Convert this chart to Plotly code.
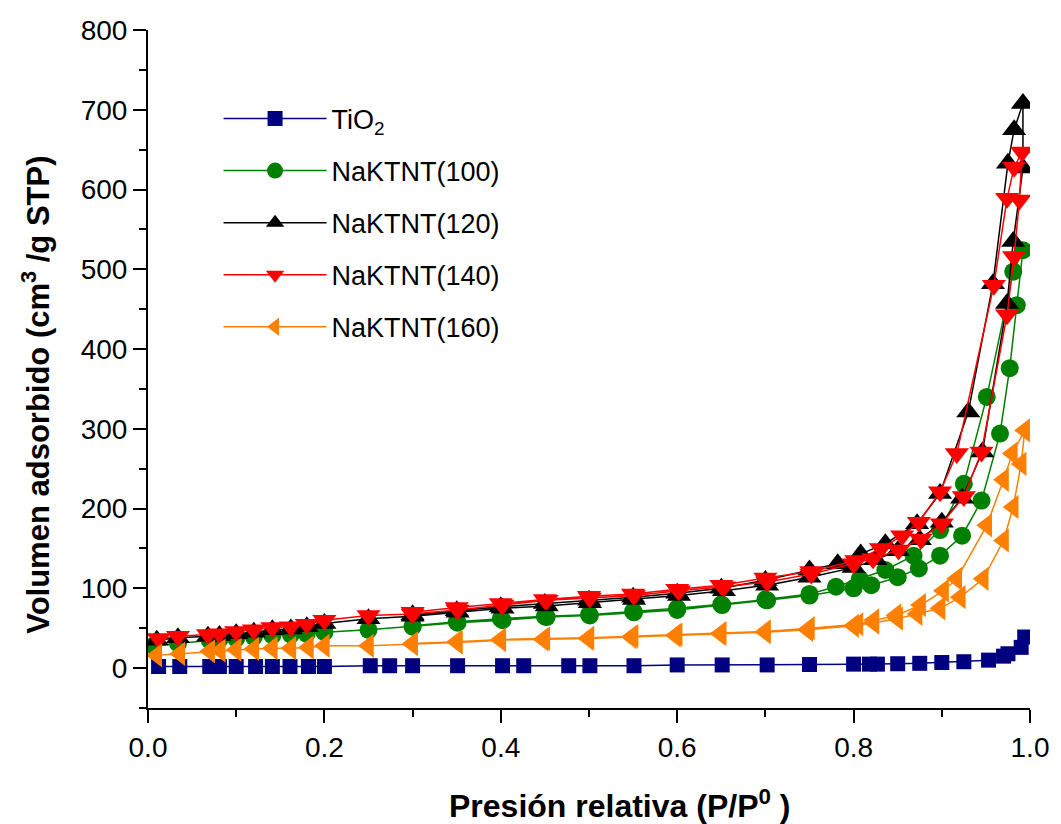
import plotly.graph_objects as go

# ---------------- data ----------------
tio2_x = [0.012, 0.036, 0.07, 0.081, 0.10, 0.122, 0.141, 0.161, 0.182, 0.20, 0.252, 0.274, 0.30, 0.351,
          0.402, 0.426, 0.477, 0.501, 0.551, 0.60, 0.651, 0.702, 0.75, 0.80, 0.818, 0.827, 0.85, 0.875,
          0.90, 0.925, 0.953, 0.97, 0.975, 0.99, 0.994]
tio2_y = [2, 2, 2, 2, 2, 2, 2, 2, 2, 2, 3, 3, 3, 3, 3, 3, 3, 3, 3, 4, 4, 4, 4.5, 5, 5, 5, 5.5, 6,
          7, 8, 10, 15, 18, 26, 39]

n100_x = [0.006, 0.034, 0.07, 0.081, 0.10, 0.12, 0.141, 0.162, 0.18, 0.20, 0.25, 0.30, 0.351, 0.402,
          0.452, 0.501, 0.551, 0.60, 0.651, 0.702, 0.75, 0.80, 0.82, 0.85, 0.874, 0.898, 0.923, 0.945,
          0.966, 0.977, 0.985, 0.992,
          0.981, 0.951, 0.925, 0.898, 0.868, 0.836, 0.807, 0.78, 0.75, 0.70, 0.65, 0.60, 0.55, 0.50,
          0.45, 0.40, 0.35, 0.30]
n100_y = [28, 31, 35, 36, 37, 39, 41, 42, 43, 45, 48, 52, 57, 60,
          64, 66, 70, 73, 79, 85, 91, 100, 104, 114, 125, 141, 166, 210,
          294, 376, 455, 524,
          497, 340, 231, 173, 141, 123, 112, 102, 93, 86, 80, 75, 71, 67,
          65, 62, 58, 53]

n120_x = [0.01, 0.034, 0.068, 0.081, 0.10, 0.12, 0.141, 0.162, 0.18, 0.20, 0.25, 0.30, 0.351, 0.402,
          0.452, 0.501, 0.551, 0.602, 0.653, 0.702, 0.75, 0.80, 0.825, 0.85, 0.875, 0.90, 0.923, 0.946,
          0.974, 0.981, 0.992, 0.992,
          0.982, 0.975, 0.958, 0.930, 0.898, 0.872, 0.836, 0.808, 0.782, 0.75, 0.70, 0.65, 0.60, 0.55,
          0.50, 0.45, 0.40, 0.35, 0.30]
n120_y = [35, 38, 40, 41, 43, 45, 48, 49, 52, 56, 62, 65, 70, 75,
          78, 82, 86, 91, 97, 104, 114, 126, 136, 147, 161, 183, 213, 271,
          457, 535, 627, 708,
          675, 633, 482, 321, 219, 181, 156, 143, 131, 123, 110, 100, 94, 89,
          85, 81, 77, 72, 67]

n140_x = [0.012, 0.034, 0.068, 0.081, 0.10, 0.12, 0.141, 0.162, 0.18, 0.20, 0.25, 0.30, 0.351, 0.402,
          0.452, 0.501, 0.551, 0.602, 0.653, 0.702, 0.752, 0.80, 0.822, 0.851, 0.876, 0.90, 0.925, 0.945,
          0.974, 0.982, 0.988, 0.991,
          0.982, 0.974, 0.959, 0.917, 0.898, 0.874, 0.855, 0.831, 0.803, 0.752, 0.70, 0.65, 0.60, 0.55,
          0.50, 0.45, 0.40, 0.35, 0.30]
n140_y = [37, 40, 42, 43, 46, 48, 51, 52, 55, 60, 66, 68, 73, 79,
          85, 88, 91, 97, 102, 108, 118, 131, 137, 148, 162, 181, 215, 271,
          443, 516, 587, 647,
          628, 589, 480, 269, 221, 183, 166, 150, 135, 121, 113, 104, 99, 93,
          90, 86, 81, 76, 70]

n160_x = [0.01, 0.036, 0.07, 0.082, 0.10, 0.12, 0.141, 0.162, 0.182, 0.20, 0.25, 0.30, 0.351, 0.40,
          0.448, 0.499, 0.548, 0.598, 0.649, 0.70, 0.748, 0.80, 0.823, 0.85, 0.872, 0.898, 0.921, 0.947,
          0.97, 0.981, 0.99, 0.994,
          0.98, 0.97, 0.951, 0.917, 0.902, 0.876, 0.848, 0.823, 0.805, 0.75, 0.70, 0.65, 0.60, 0.55,
          0.50, 0.45, 0.40, 0.35, 0.30]
n160_y = [16, 18, 21, 22, 23, 24, 25, 25, 26, 28, 28, 30, 32, 35,
          36, 37, 39, 41, 43, 45, 48, 53, 57, 62, 68, 75, 89, 112,
          160, 202, 256, 298,
          269, 236, 179, 112, 97, 79, 66, 60, 55, 50, 46, 44, 42, 40,
          38, 37, 36, 33, 31]

series_names = ["TiO<sub>2</sub>", "NaKTNT(100)", "NaKTNT(120)", "NaKTNT(140)", "NaKTNT(160)"]
series_x = [tio2_x, n100_x, n120_x, n140_x, n160_x]
series_y = [tio2_y, n100_y, n120_y, n140_y, n160_y]
series_colors = ["#000080", "#008000", "#000000", "#ff0000", "#ff8000"]
series_symbols = ["square", "circle", "triangle-up", "triangle-down", "triangle-left"]
series_sizes = [15, 18, 21, 21, 21]

x_ticks = [0.0, 0.2, 0.4, 0.6, 0.8, 1.0]
y_ticks = [0, 100, 200, 300, 400, 500, 600, 700, 800]

FONT = "Arial, 'Liberation Sans', Helvetica, sans-serif"

fig = go.Figure()
for i, (nm, xs, ys, c, s, sz) in enumerate(zip(series_names, series_x, series_y,
                                                 series_colors, series_symbols, series_sizes)):
    fig.add_trace(go.Scatter(
        x=xs, y=ys, name=nm, mode="lines+markers",
        legendgroup="g%d" % i,
        line=dict(color=c, width=1.5),
        marker=dict(symbol=s, size=sz, color=c, line=dict(width=0)),
    ))

fig.update_layout(
    width=1061, height=824,
    margin=dict(l=148, r=24, t=30, b=116),
    paper_bgcolor="white", plot_bgcolor="white",
    font=dict(family=FONT, size=28, color="black"),
    showlegend=True,
    legend=dict(
        x=0.08, y=0.905, xanchor="left", yanchor="top",
        bgcolor="rgba(0,0,0,0)", borderwidth=0,
        itemwidth=103, tracegroupgap=14,
        traceorder="grouped",
        font=dict(family=FONT, size=27, color="black"),
    ),
    xaxis=dict(
        range=[0, 1.0], tickvals=x_ticks, ticktext=["%.1f" % v for v in x_ticks],
        showline=True, linecolor="black", linewidth=2,
        ticks="outside", ticklen=13, tickwidth=2, tickcolor="black",
        minor=dict(dtick=0.1, tick0=0, ticks="outside", ticklen=7, tickwidth=2, tickcolor="black"),
        showgrid=False, zeroline=False,
        tickfont=dict(family=FONT, size=28),
    ),
    yaxis=dict(
        range=[-50, 800], tickvals=y_ticks,
        showline=True, linecolor="black", linewidth=2,
        ticks="outside", ticklen=13, tickwidth=2, tickcolor="black",
        minor=dict(dtick=50, tick0=-50, ticks="outside", ticklen=7, tickwidth=2, tickcolor="black"),
        showgrid=False, zeroline=False,
        tickfont=dict(family=FONT, size=28),
    ),
    annotations=[
        dict(text="<b>Presión relativa (P/P<sup>0</sup> )</b>", xref="paper", yref="paper",
             x=0.535, y=-0.142, xanchor="center", yanchor="middle", showarrow=False,
             font=dict(family=FONT, size=32, color="black")),
        dict(text="<b>Volumen adsorbido (cm<sup>3</sup> /g STP)</b>", xref="paper", yref="paper",
             x=-0.127, y=0.462, xanchor="center", yanchor="middle", showarrow=False, textangle=-90,
             font=dict(family=FONT, size=31, color="black")),
    ],
)

fig.write_html("out.html")
